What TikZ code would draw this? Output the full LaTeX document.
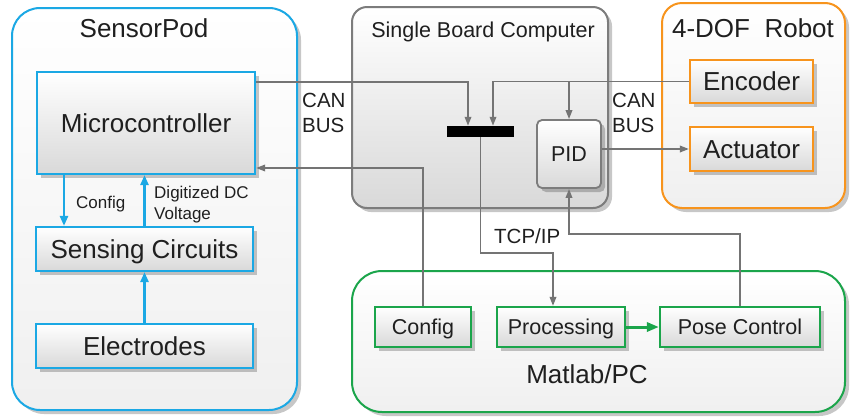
\documentclass[tikz,border=0pt]{standalone}
\usepackage{fontspec}
\setmainfont{Liberation Sans}
\usetikzlibrary{arrows.meta,shadows}
\definecolor{sblue}{HTML}{1BA8E4}
\definecolor{sorange}{HTML}{F7941D}
\definecolor{sgreen}{HTML}{1BA54B}
\definecolor{sgray}{HTML}{7C7C7C}
\definecolor{lgray}{HTML}{747474}
\begin{document}
\begin{tikzpicture}[x=1pt,y=-1pt,
  shd/.style={drop shadow={shadow xshift=4pt,shadow yshift=-4pt,opacity=0.22,fill=black}},
  container/.style={shd,draw,line width=2pt,top color=white,bottom color=gray!12,inner sep=0},
  box/.style={shd,draw,line width=2.2pt,top color=white,bottom color=gray!30,inner sep=0,
    font=\fontsize{26}{29}\selectfont,text height=18.6pt,text depth=0pt,text=black!88},
  mbox/.style={box,font=\fontsize{21.5}{24}\selectfont,text height=15.4pt},
  title/.style={font=\fontsize{26}{29}\selectfont,anchor=base,text=black!88},
  mlbl/.style={font=\fontsize{20.5}{24}\selectfont,anchor=base west,inner sep=0,text=black!88},
  slbl/.style={font=\fontsize{17}{20}\selectfont,anchor=base west,inner sep=0,text=black!88},
  conn/.style={draw=lgray,line width=1.8pt,-{Triangle[length=9pt,width=6.5pt]}},
  bluearr/.style={draw=sblue,line width=2.4pt,-{Triangle[length=10pt,width=8pt]}},
  greenarr/.style={draw=sgreen,line width=3pt,-{Triangle[length=12pt,width=9pt]}}]
\useasboundingbox (0,0) rectangle (854,416);
% containers
\node[container,draw=sblue,rounded corners=28pt,minimum width=285pt,minimum height=402pt] (pod) at (154.5,209) {};
\node[container,draw=sgray,rounded corners=15pt,bottom color=gray!30,minimum width=256pt,minimum height=201pt] (sbc) at (480,107.5) {};
\node[container,draw=sorange,rounded corners=20pt,minimum width=183pt,minimum height=205pt] (robot) at (753.5,105.5) {};
\node[container,draw=sgreen,rounded corners=30pt,minimum width=493pt,minimum height=141pt] (pc) at (598.5,341.5) {};
% titles
\node[title] (tpod) at (144,37) {SensorPod};
\node[title,font=\fontsize{21.5}{24}\selectfont] (tsbc) at (483,37) {Single Board Computer};
\node[title] (trobot) at (753,37) {4-DOF\ \ Robot};
\node[title] (tpc) at (587,383) {Matlab/PC};
% inner boxes
\node[box,draw=sblue,minimum width=218pt,minimum height=102pt] (micro) at (146,123) {Microcontroller};
\node[box,draw=sblue,minimum width=217pt,minimum height=44pt] (sensing) at (144.5,249) {Sensing Circuits};
\node[box,draw=sblue,minimum width=217pt,minimum height=44pt] (electrodes) at (144.5,346) {Electrodes};
\node[fill=black,inner sep=0,minimum width=67pt,minimum height=11pt] (bar) at (480.5,131.5) {};
\node[mbox,draw=sgray,rounded corners=5pt,line width=1.8pt,minimum width=64pt,minimum height=68pt] (pid) at (569,154) {PID};
\node[box,draw=sorange,minimum width=123pt,minimum height=43pt] (encoder) at (751.5,81.5) {Encoder};
\node[box,draw=sorange,minimum width=123pt,minimum height=44pt] (actuator) at (751.5,149) {Actuator};
\node[mbox,draw=sgreen,minimum width=96pt,minimum height=40pt] (config) at (423,327) {Config};
\node[mbox,draw=sgreen,minimum width=128pt,minimum height=40pt] (proc) at (561,327) {Processing};
\node[mbox,draw=sgreen,minimum width=160pt,minimum height=40pt] (pose) at (740,327) {Pose Control};
% labels
\node[mlbl] (can1) at (302,107) {CAN};
\node[mlbl] (bus1) at (302,132) {BUS};
\node[mlbl] (can2) at (612,107) {CAN};
\node[mlbl] (bus2) at (612,132) {BUS};
\node[mlbl] (tcp) at (494,243) {TCP/IP};
\node[slbl] (cfglbl) at (76,208) {Config};
\node[slbl] (dig1) at (154,198) {Digitized DC};
\node[slbl] (dig2) at (154,219) {Voltage};
% connectors
\coordinate (junc) at (pid.north |- encoder.west);
\draw[conn] (micro.east |- 0,82) -| ([xshift=-12.5pt]bar.north);
\draw[conn] (encoder.west) -| ([xshift=12.5pt]bar.north);
\draw[conn] (junc) -- (pid.north);
\draw[conn] (pid.east |- actuator.west) -- (actuator.west);
\draw[conn] (bar.south) -- ++(0,116) -| ([xshift=-8pt]proc.north);
\draw[conn] (config.north) |- ([yshift=-45pt]micro.east);
\draw[conn] (pose.north) -- ++(0,-72) -| (pid.south);
\draw[bluearr] ([xshift=-82pt]micro.south) -- ([xshift=-82pt]micro.south |- sensing.north);
\draw[bluearr] (sensing.north) -- (sensing.north |- micro.south);
\draw[bluearr] (electrodes.north) -- (sensing.south);
\draw[greenarr] (proc.east) -- (pose.west);
\end{tikzpicture}
\end{document}
